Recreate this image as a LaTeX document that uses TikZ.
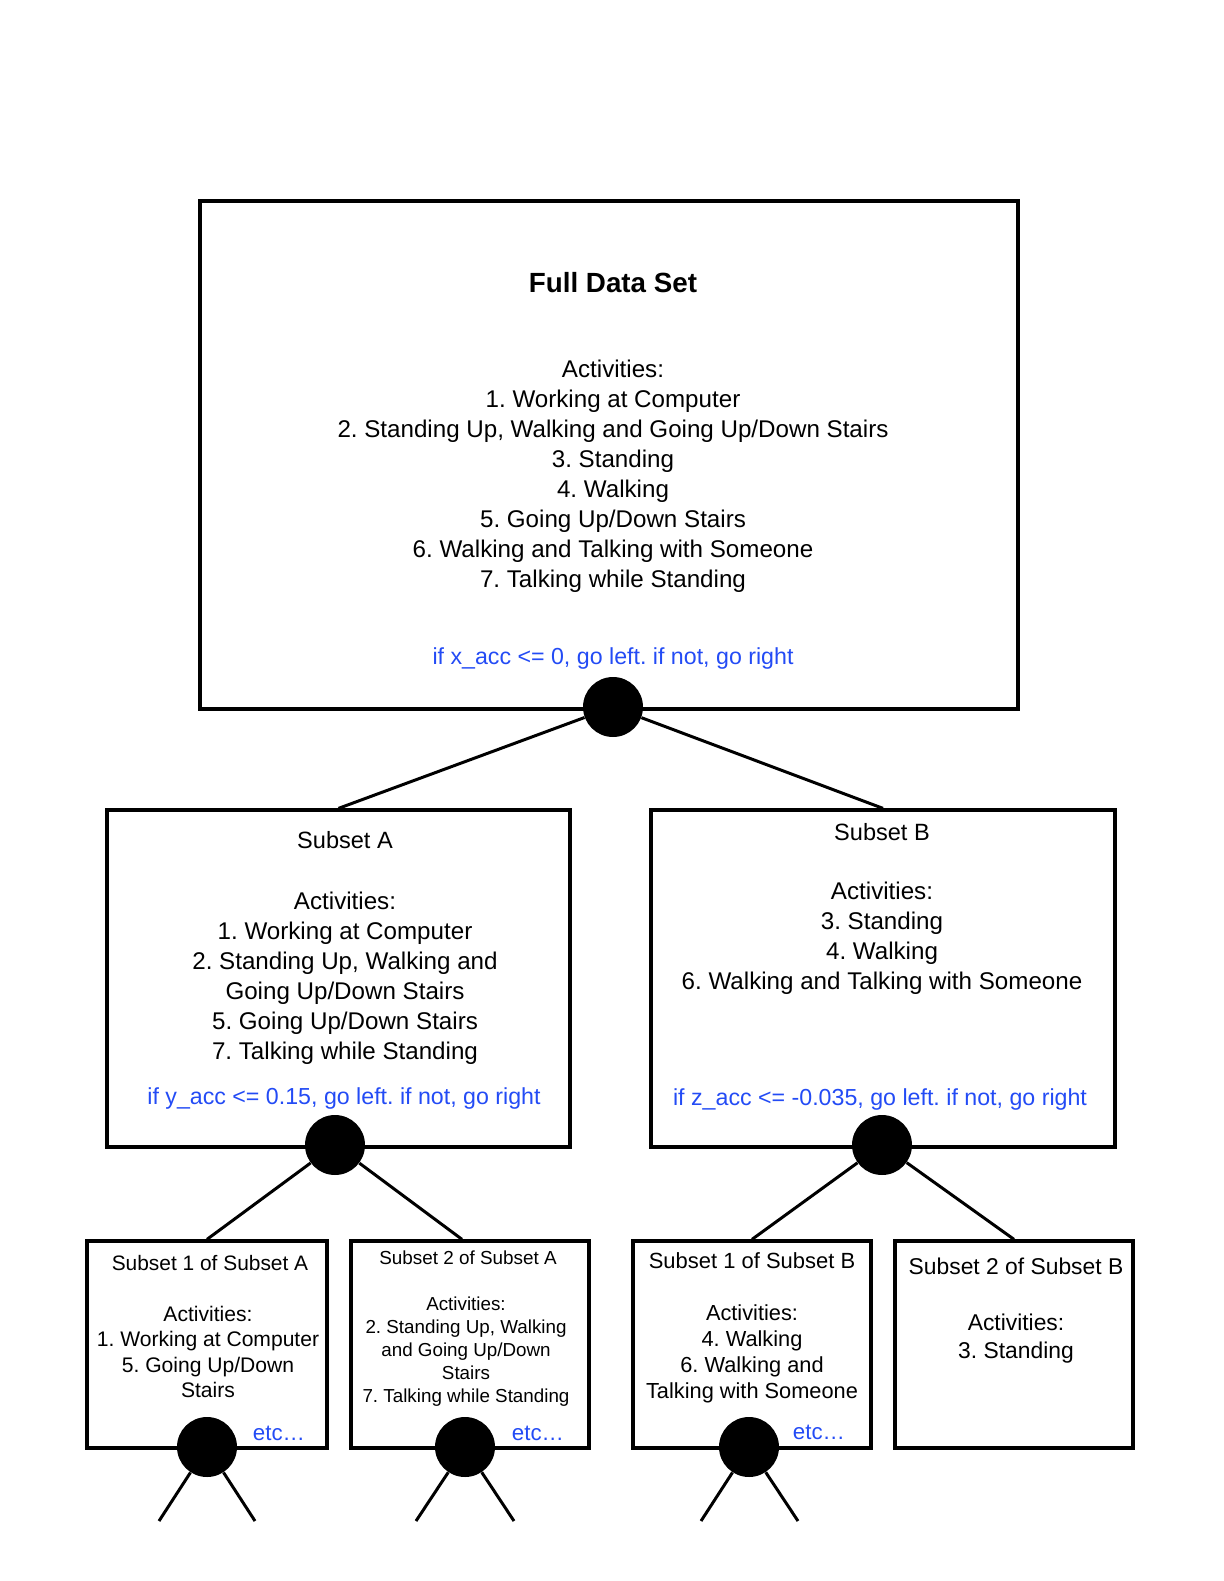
\documentclass[tikz,border=0pt]{standalone}
\usepackage{fontspec}
\setmainfont{Liberation Sans}
\usepackage{tikz}
\definecolor{rulecol}{RGB}{35,75,245}
\frenchspacing

\begin{document}
\begin{tikzpicture}[x=0.02cm,y=-0.02cm,
  box/.style={rectangle,draw,line width=1.9pt,inner sep=0pt},
  dot/.style={circle,fill=black,inner sep=0pt,minimum size=1.2cm},
  branch/.style={line width=1.7pt},
  rule/.style={text=rulecol}]
\useasboundingbox (0,0) rectangle (1223,1581);
% boxes
\node (top)     at (609,455)    [box,minimum width=16.36cm,minimum height=10.16cm] {};
\node (subA)    at (338.5,978.5) [box,minimum width=9.26cm,minimum height=6.74cm] {};
\node (subB)    at (883,978.5)  [box,minimum width=9.28cm,minimum height=6.74cm] {};
\node (subAone) at (207,1344.5) [box,minimum width=4.8cm,minimum height=4.14cm] {};
\node (subAtwo) at (470,1344.5) [box,minimum width=4.76cm,minimum height=4.14cm] {};
\node (subBone) at (752,1344.5) [box,minimum width=4.76cm,minimum height=4.14cm] {};
\node (subBtwo) at (1014,1344.5) [box,minimum width=4.76cm,minimum height=4.14cm] {};
% texts
\node (topTitle) at (613,283) [font=\fontsize{15.8}{19}\selectfont\bfseries] {Full Data Set};
\node (topList)  at (613,476) [align=center,font=\fontsize{13.75}{17.1}\selectfont]
  {Activities:\\1. Working at Computer\\2. Standing Up, Walking and Going Up/Down Stairs\\3. Standing\\4. Walking\\5. Going Up/Down Stairs\\6. Walking and Talking with Someone\\7. Talking while Standing};
\node (topRule)  at (613,658) [rule,font=\fontsize{13.2}{16}\selectfont] {if x\_acc <= 0, go left. if not, go right};
\node (subATitle) at (345,840) [font=\fontsize{13.4}{16}\selectfont] {Subset A};
\node (subAList)  at (345,978) [align=center,font=\fontsize{13.75}{17.1}\selectfont]
  {Activities:\\1. Working at Computer\\2. Standing Up, Walking and\\Going Up/Down Stairs\\5. Going Up/Down Stairs\\7. Talking while Standing};
\node (subARule)  at (344,1098) [rule,font=\fontsize{13.2}{16}\selectfont] {if y\_acc <= 0.15, go left. if not, go right};
\node (subBTitle) at (882,832) [font=\fontsize{13.4}{16}\selectfont] {Subset B};
\node (subBList)  at (882,938) [align=center,font=\fontsize{13.75}{17.1}\selectfont]
  {Activities:\\3. Standing\\4. Walking\\6. Walking and Talking with Someone};
\node (subBRule)  at (880,1099) [rule,font=\fontsize{13.2}{16}\selectfont] {if z\_acc <= -0.035, go left. if not, go right};
\node (subAoneTitle) at (210,1263) [font=\fontsize{11.9}{14.3}\selectfont] {Subset 1 of Subset A};
\node (subAoneList)  at (208,1352) [align=center,font=\fontsize{12}{14.3}\selectfont]
  {Activities:\\1. Working at Computer\\5. Going Up/Down\\Stairs};
\node (subAtwoTitle) at (468,1258) [font=\fontsize{10.75}{13}\selectfont] {Subset 2 of Subset A};
\node (subAtwoList)  at (466,1352) [align=center,font=\fontsize{10.7}{13.1}\selectfont]
  {Activities:\\2. Standing Up, Walking\\and Going Up/Down\\Stairs\\7. Talking while Standing};
\node (subBoneTitle) at (752,1261) [font=\fontsize{12.5}{14.9}\selectfont] {Subset 1 of Subset B};
\node (subBoneList)  at (752,1354) [align=center,font=\fontsize{12.4}{14.9}\selectfont]
  {Activities:\\4. Walking\\6. Walking and\\Talking with Someone};
\node (subBtwoTitle) at (1016,1266) [font=\fontsize{13}{15.9}\selectfont] {Subset 2 of Subset B};
\node (subBtwoList)  at (1016,1339) [align=center,font=\fontsize{13}{15.9}\selectfont]
  {Activities:\\3. Standing};
\node (etcAone) at (279,1433) [rule,font=\fontsize{12.7}{15}\selectfont] {etc…};
\node (etcAtwo) at (538,1433) [rule,font=\fontsize{12.7}{15}\selectfont] {etc…};
\node (etcBone) at (819,1432) [rule,font=\fontsize{12.7}{15}\selectfont] {etc…};
% split points
\node (splitTop)  at (613,707)  [dot] {};
\node (splitA)    at (335,1145) [dot] {};
\node (splitB)    at (882,1145) [dot] {};
\node (splitAone) at (207,1447) [dot] {};
\node (splitAtwo) at (465,1447) [dot] {};
\node (splitBone) at (749,1447) [dot] {};
\coordinate (legAoneL) at (159,1521);
\coordinate (legAoneR) at (255,1521);
\coordinate (legAtwoL) at (416,1521);
\coordinate (legAtwoR) at (514,1521);
\coordinate (legBoneL) at (701,1521);
\coordinate (legBoneR) at (798,1521);
% branches
\draw [branch] (splitTop) -- (subA.north);
\draw [branch] (splitTop) -- (subB.north);
\draw [branch] (splitA) -- (subAone.north);
\draw [branch] (splitA) -- ([xshift=-0.16cm]subAtwo.north);
\draw [branch] (splitB) -- (subBone.north);
\draw [branch] (splitB) -- (subBtwo.north);
\draw [branch] (splitAone) -- (legAoneL);
\draw [branch] (splitAone) -- (legAoneR);
\draw [branch] (splitAtwo) -- (legAtwoL);
\draw [branch] (splitAtwo) -- (legAtwoR);
\draw [branch] (splitBone) -- (legBoneL);
\draw [branch] (splitBone) -- (legBoneR);
\end{tikzpicture}
\end{document}
